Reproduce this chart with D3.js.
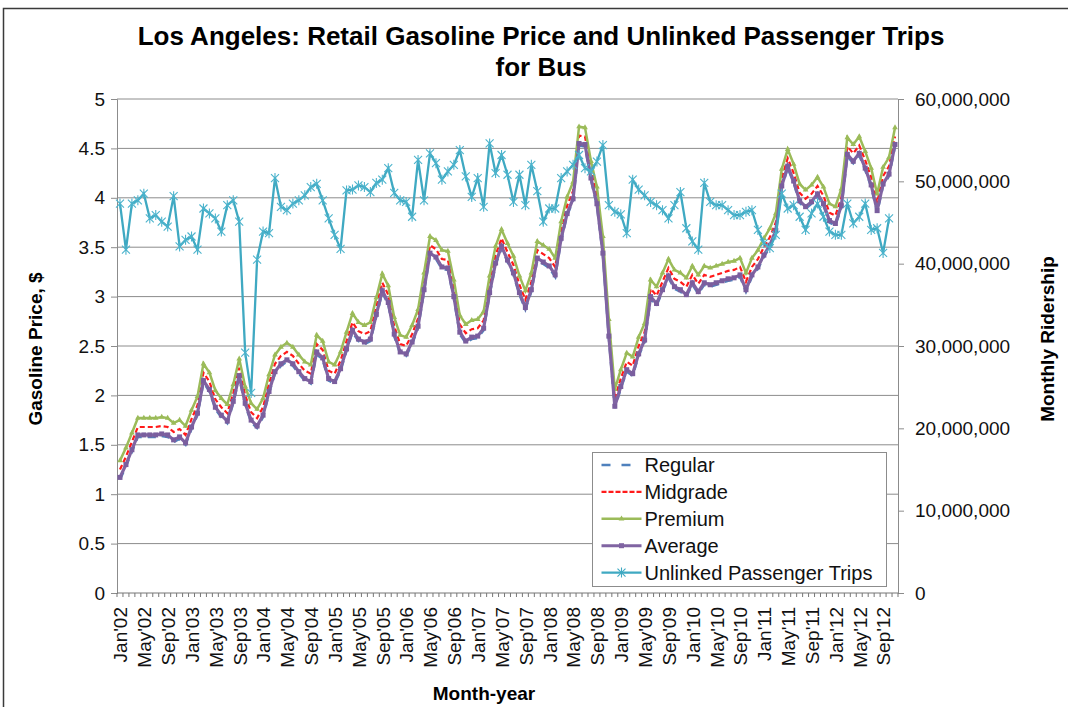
<!DOCTYPE html>
<html>
<head>
<meta charset="utf-8">
<script src="https://cdn.jsdelivr.net/npm/d3@7"></script>
<style>
  body { margin: 0; background: #fff; }
  svg { font-family: "Liberation Sans", Arial, sans-serif; }
</style>
</head>
<body>
<div id="chart"></div>
<script>
// Monthly retail gasoline prices, Los Angeles, Jan 2002 - Nov 2012 ($/gal)
const regular = [
  1.15, 1.28, 1.43, 1.58, 1.58, 1.58, 1.58, 1.59, 1.58, 1.53, 1.56, 1.50,
  1.66, 1.80, 2.13, 2.04, 1.86, 1.78, 1.72, 1.92, 2.18, 1.90, 1.73, 1.67,
  1.78, 2.02, 2.22, 2.30, 2.34, 2.30, 2.22, 2.15, 2.12, 2.42, 2.36, 2.15,
  2.12, 2.25, 2.45, 2.64, 2.55, 2.52, 2.55, 2.80, 3.04, 2.92, 2.60, 2.42,
  2.40, 2.52, 2.68, 3.05, 3.42, 3.38, 3.28, 3.27, 2.98, 2.62, 2.53, 2.57,
  2.58, 2.66, 3.02, 3.32, 3.49, 3.35, 3.22, 3.02, 2.87, 3.05, 3.37, 3.33,
  3.29, 3.20, 3.57, 3.82, 3.97, 4.53, 4.52, 4.18, 3.92, 3.42, 2.58, 1.87,
  2.07, 2.24, 2.20, 2.40, 2.54, 2.98, 2.91, 3.05, 3.19, 3.08, 3.05, 3.00,
  3.12, 3.03, 3.12, 3.10, 3.12, 3.14, 3.16, 3.17, 3.20, 3.05, 3.20, 3.28,
  3.40, 3.50, 3.65, 4.10, 4.30, 4.15, 3.95, 3.89, 3.94, 4.02, 3.92, 3.75,
  3.72, 3.90, 4.42, 4.35, 4.43, 4.28, 4.11, 3.85, 4.12, 4.22, 4.52
];
const midgrade = [
  1.25, 1.38, 1.53, 1.68, 1.68, 1.68, 1.68, 1.69, 1.68, 1.63, 1.66, 1.60,
  1.76, 1.90, 2.23, 2.14, 1.96, 1.88, 1.82, 2.02, 2.28, 2.00, 1.83, 1.77,
  1.88, 2.12, 2.32, 2.40, 2.44, 2.40, 2.32, 2.25, 2.22, 2.52, 2.46, 2.25,
  2.22, 2.35, 2.55, 2.74, 2.65, 2.62, 2.65, 2.90, 3.14, 3.02, 2.70, 2.52,
  2.50, 2.62, 2.78, 3.15, 3.52, 3.48, 3.38, 3.37, 3.08, 2.72, 2.63, 2.67,
  2.68, 2.76, 3.12, 3.42, 3.59, 3.45, 3.32, 3.12, 2.97, 3.15, 3.47, 3.43,
  3.39, 3.30, 3.67, 3.92, 4.07, 4.63, 4.62, 4.28, 4.02, 3.52, 2.68, 1.97,
  2.17, 2.34, 2.30, 2.50, 2.64, 3.08, 3.01, 3.15, 3.29, 3.18, 3.15, 3.10,
  3.22, 3.13, 3.22, 3.20, 3.22, 3.24, 3.26, 3.27, 3.30, 3.15, 3.30, 3.38,
  3.50, 3.60, 3.75, 4.20, 4.40, 4.25, 4.05, 3.99, 4.04, 4.12, 4.02, 3.85,
  3.82, 4.00, 4.52, 4.45, 4.53, 4.38, 4.21, 3.95, 4.22, 4.32, 4.62
];
const premium = [
  1.34, 1.47, 1.62, 1.77, 1.77, 1.77, 1.77, 1.78, 1.77, 1.72, 1.75, 1.69,
  1.85, 1.99, 2.32, 2.23, 2.05, 1.97, 1.91, 2.11, 2.37, 2.09, 1.92, 1.86,
  1.97, 2.21, 2.41, 2.49, 2.53, 2.49, 2.41, 2.34, 2.31, 2.61, 2.55, 2.34,
  2.31, 2.44, 2.64, 2.83, 2.74, 2.71, 2.74, 2.99, 3.23, 3.11, 2.79, 2.61,
  2.59, 2.71, 2.87, 3.24, 3.61, 3.57, 3.47, 3.46, 3.17, 2.81, 2.72, 2.76,
  2.77, 2.85, 3.21, 3.51, 3.68, 3.54, 3.41, 3.21, 3.06, 3.24, 3.56, 3.52,
  3.48, 3.39, 3.76, 4.01, 4.16, 4.72, 4.71, 4.37, 4.11, 3.61, 2.77, 2.06,
  2.26, 2.43, 2.39, 2.59, 2.73, 3.17, 3.10, 3.24, 3.38, 3.27, 3.24, 3.19,
  3.31, 3.22, 3.31, 3.29, 3.31, 3.33, 3.35, 3.36, 3.39, 3.24, 3.39, 3.47,
  3.59, 3.69, 3.84, 4.29, 4.49, 4.34, 4.14, 4.08, 4.13, 4.21, 4.11, 3.94,
  3.91, 4.09, 4.61, 4.54, 4.62, 4.47, 4.30, 4.04, 4.31, 4.41, 4.71
];
const average = [
  1.17, 1.30, 1.45, 1.60, 1.60, 1.60, 1.60, 1.61, 1.60, 1.55, 1.58, 1.52,
  1.68, 1.82, 2.15, 2.06, 1.88, 1.80, 1.74, 1.94, 2.20, 1.92, 1.75, 1.69,
  1.80, 2.04, 2.24, 2.32, 2.36, 2.32, 2.24, 2.17, 2.14, 2.44, 2.38, 2.17,
  2.14, 2.27, 2.47, 2.66, 2.57, 2.54, 2.57, 2.82, 3.06, 2.94, 2.62, 2.44,
  2.42, 2.54, 2.70, 3.07, 3.44, 3.40, 3.30, 3.29, 3.00, 2.64, 2.55, 2.59,
  2.60, 2.68, 3.04, 3.34, 3.51, 3.37, 3.24, 3.04, 2.89, 3.07, 3.39, 3.35,
  3.31, 3.22, 3.59, 3.84, 3.99, 4.55, 4.54, 4.20, 3.94, 3.44, 2.60, 1.89,
  2.09, 2.26, 2.22, 2.42, 2.56, 3.00, 2.93, 3.07, 3.21, 3.10, 3.07, 3.02,
  3.14, 3.05, 3.14, 3.12, 3.14, 3.16, 3.18, 3.19, 3.22, 3.07, 3.22, 3.30,
  3.42, 3.52, 3.67, 4.12, 4.32, 4.17, 3.97, 3.91, 3.96, 4.04, 3.94, 3.77,
  3.74, 3.92, 4.44, 4.37, 4.45, 4.30, 4.13, 3.87, 4.14, 4.24, 4.54
];
// Unlinked passenger trips for bus, millions per month (Jan 2002 - Oct 2012)
const trips = [
  47.3, 41.7, 47.3, 47.7, 48.5, 45.5, 45.9, 45.1, 44.5, 48.2, 42.1, 42.9,
  43.3, 41.7, 46.7, 46.1, 45.5, 43.9, 47.1, 47.7, 45.1, 29.2, 24.3, 40.5,
  43.9, 43.7, 50.4, 46.9, 46.5, 47.3, 47.7, 48.3, 49.3, 49.7, 47.7, 45.5,
  43.5, 41.8, 48.9, 49.0, 49.5, 49.3, 48.7, 49.8, 50.2, 51.6, 48.6, 47.7,
  47.5, 45.7, 52.6, 47.7, 53.4, 52.2, 50.2, 51.2, 52.0, 53.8, 50.6, 48.1,
  50.4, 46.9, 54.6, 51.0, 53.2, 50.8, 47.5, 50.8, 47.1, 52.0, 48.8, 45.1,
  46.7, 46.7, 50.4, 51.2, 52.0, 53.2, 51.6, 51.2, 52.4, 54.4, 47.1, 46.3,
  46.0, 43.7, 50.2, 49.0, 48.3, 47.5, 47.1, 46.5, 45.5, 47.1, 48.7, 44.3,
  42.7, 41.7, 49.8, 47.5, 47.1, 47.1, 46.5, 45.9, 45.9, 46.3, 46.5, 44.1,
  42.5, 41.9, 43.5, 48.5, 46.7, 47.1, 45.7, 44.1, 46.1, 47.3, 45.7, 43.9,
  43.5, 43.5, 47.3, 44.9, 45.7, 47.3, 44.1, 44.3, 41.3, 45.5
];

const priceTicks = [0, 0.5, 1, 1.5, 2, 2.5, 3, 3.5, 4, 4.5, 5];
const tripTicks = [0, 10, 20, 30, 40, 50, 60];
const monthNames = ['Jan', 'Feb', 'Mar', 'Apr', 'May', 'Jun', 'Jul', 'Aug', 'Sep', 'Oct', 'Nov', 'Dec'];
const firstYear = 2002;
const categories = regular.map((d, i) =>
  monthNames[i % 12] + "'" + String((firstYear + Math.floor(i / 12)) % 100).padStart(2, '0'));
const labelEvery = 4;

const W = 1068, H = 707;
const plot = {left: 117, right: 898, top: 99, bottom: 593};

const svg = d3.select('#chart').append('svg')
  .attr('width', W)
  .attr('height', H);

// Outer chart border
svg.append('rect')
  .attr('x', 3.5).attr('y', 8.5)
  .attr('width', 1200).attr('height', 900)
  .attr('fill', 'none')
  .attr('stroke', '#3a3a3a')
  .attr('stroke-width', 1.5);

// Scales
const x = d3.scalePoint()
  .domain(d3.range(categories.length))
  .range([plot.left, plot.right])
  .padding(0.5);
const yL = d3.scaleLinear().domain([0, 5]).range([plot.bottom, plot.top]);
const yR = d3.scaleLinear().domain([0, 60]).range([plot.bottom, plot.top]);

// Gridlines
svg.append('g')
  .selectAll('line')
  .data(priceTicks.filter(d => d > 0))
  .enter().append('line')
  .attr('x1', plot.left).attr('x2', plot.right)
  .attr('y1', d => yL(d)).attr('y2', d => yL(d))
  .attr('stroke', '#8c8c8c')
  .attr('stroke-width', 1);

// Left axis
const leftAxis = svg.append('g')
  .attr('transform', `translate(${plot.left},0)`)
  .call(d3.axisLeft(yL).tickValues(priceTicks).tickSize(6).tickPadding(6).tickFormat(d => String(d)));
leftAxis.select('.domain').attr('stroke', '#8c8c8c');
leftAxis.selectAll('.tick line').attr('stroke', '#8c8c8c');
leftAxis.selectAll('text').style('font-size', '19px').attr('fill', '#111');

// Right axis
const rightAxis = svg.append('g')
  .attr('transform', `translate(${plot.right},0)`)
  .call(d3.axisRight(yR).tickValues(tripTicks).tickSize(6).tickPadding(11).tickFormat(d => d3.format(',')(d * 1e6)));
rightAxis.select('.domain').attr('stroke', '#8c8c8c');
rightAxis.selectAll('.tick line').attr('stroke', '#8c8c8c');
rightAxis.selectAll('text').style('font-size', '19px').attr('fill', '#111');

// Bottom axis: line, small ticks between categories, rotated labels
const step = x.step();
svg.append('line')
  .attr('x1', plot.left).attr('x2', plot.right)
  .attr('y1', plot.bottom).attr('y2', plot.bottom)
  .attr('stroke', '#777');
svg.append('g')
  .selectAll('line')
  .data(d3.range(categories.length + 1))
  .enter().append('line')
  .attr('x1', i => x(Math.min(i, categories.length - 1)) + (i === categories.length ? step / 2 : -step / 2))
  .attr('x2', i => x(Math.min(i, categories.length - 1)) + (i === categories.length ? step / 2 : -step / 2))
  .attr('y1', plot.bottom).attr('y2', plot.bottom + 4)
  .attr('stroke', '#777');

const bottomAxis = svg.append('g')
  .attr('transform', `translate(0,${plot.bottom})`)
  .call(d3.axisBottom(x)
    .tickValues(d3.range(0, categories.length, labelEvery))
    .tickSize(0)
    .tickFormat(i => categories[i]));
bottomAxis.select('.domain').remove();
bottomAxis.selectAll('text')
  .attr('transform', 'rotate(-90)')
  .attr('x', -14)
  .attr('y', 0)
  .attr('dy', '0.36em')
  .style('text-anchor', 'end')
  .style('font-size', '19px')
  .attr('fill', '#111');

// Series lines
const priceLine = data => d3.line()
  .x((d, i) => x(i))
  .y(d => yL(d))(data);

svg.append('path')
  .attr('d', priceLine(regular))
  .attr('fill', 'none')
  .attr('stroke', '#4f81bd')
  .attr('stroke-width', 2.5)
  .attr('stroke-dasharray', '8,6');

svg.append('path')
  .attr('d', priceLine(midgrade))
  .attr('fill', 'none')
  .attr('stroke', '#ff1a1a')
  .attr('stroke-width', 2.2)
  .attr('stroke-dasharray', '5,3');

svg.append('path')
  .attr('d', priceLine(premium))
  .attr('fill', 'none')
  .attr('stroke', '#9bbb59')
  .attr('stroke-width', 2.5);
svg.append('g')
  .selectAll('path')
  .data(premium)
  .enter().append('path')
  .attr('transform', (d, i) => `translate(${x(i)},${yL(d)})`)
  .attr('d', d3.symbol(d3.symbolTriangle, 14))
  .attr('fill', '#9bbb59');

svg.append('path')
  .attr('d', priceLine(average))
  .attr('fill', 'none')
  .attr('stroke', '#8064a2')
  .attr('stroke-width', 3.2);
svg.append('g')
  .selectAll('rect')
  .data(average)
  .enter().append('rect')
  .attr('x', (d, i) => x(i) - 2.5)
  .attr('y', d => yL(d) - 2.5)
  .attr('width', 5).attr('height', 5)
  .attr('fill', '#7a5e9e');

// Ridership (secondary axis)
const tripPoints = trips.map((d, i) => [x(i), yR(d)]);
svg.append('path')
  .attr('d', d3.line()(tripPoints))
  .attr('fill', 'none')
  .attr('stroke', '#3fa9c2')
  .attr('stroke-width', 2.3);
const starPath = 'M-4,-4L4,4M-4,4L4,-4M0,-5L0,5';
svg.append('g')
  .selectAll('path')
  .data(tripPoints)
  .enter().append('path')
  .attr('transform', d => `translate(${d[0]},${d[1]})`)
  .attr('d', starPath)
  .attr('stroke', '#4bb3cc')
  .attr('stroke-width', 1.1)
  .attr('fill', 'none');

// Title
svg.append('text')
  .attr('x', 541).attr('y', 45)
  .attr('text-anchor', 'middle')
  .style('font-size', '26px')
  .style('font-weight', 'bold')
  .text('Los Angeles: Retail Gasoline Price and Unlinked Passenger Trips');
svg.append('text')
  .attr('x', 541).attr('y', 76)
  .attr('text-anchor', 'middle')
  .style('font-size', '26px')
  .style('font-weight', 'bold')
  .text('for Bus');

// Axis titles
svg.append('text')
  .attr('transform', 'translate(35,349) rotate(-90)')
  .attr('text-anchor', 'middle')
  .attr('dy', '0.36em')
  .style('font-size', '19px')
  .style('font-weight', 'bold')
  .text('Gasoline Price, $');
svg.append('text')
  .attr('transform', 'translate(1047,339) rotate(-90)')
  .attr('text-anchor', 'middle')
  .attr('dy', '0.36em')
  .style('font-size', '19px')
  .style('font-weight', 'bold')
  .text('Monthly Ridership');
svg.append('text')
  .attr('x', 484).attr('y', 700)
  .attr('text-anchor', 'middle')
  .style('font-size', '19px')
  .style('font-weight', 'bold')
  .text('Month-year');

// Legend
const legendItems = [
  {name: 'Regular', color: '#4f81bd', dash: '9,11', width: 2.5, marker: null},
  {name: 'Midgrade', color: '#ff1a1a', dash: '5,2', width: 2.2, marker: null},
  {name: 'Premium', color: '#9bbb59', dash: null, width: 2.5, marker: 'tri'},
  {name: 'Average', color: '#8064a2', dash: null, width: 3, marker: 'sq'},
  {name: 'Unlinked Passenger Trips', color: '#3fa9c2', dash: null, width: 2.3, marker: 'star'}
];
const legend = svg.append('g').attr('transform', 'translate(592.5,452.5)');
legend.append('rect')
  .attr('width', 294).attr('height', 134)
  .attr('fill', '#fff')
  .attr('stroke', '#8c8c8c');
const items = legend.selectAll('g.item')
  .data(legendItems)
  .enter().append('g')
  .attr('class', 'item')
  .attr('transform', (d, i) => `translate(0,${12.5 + i * 26.9})`);
items.append('line')
  .attr('x1', 9).attr('x2', 49)
  .attr('stroke', d => d.color)
  .attr('stroke-width', d => d.width)
  .attr('stroke-dasharray', d => d.dash);
items.filter(d => d.marker === 'tri').append('path')
  .attr('transform', 'translate(29,0)')
  .attr('d', d3.symbol(d3.symbolTriangle, 14))
  .attr('fill', d => d.color);
items.filter(d => d.marker === 'sq').append('rect')
  .attr('x', 26.5).attr('y', -2.5).attr('width', 5).attr('height', 5)
  .attr('fill', d => d.color);
items.filter(d => d.marker === 'star').append('path')
  .attr('transform', 'translate(29,0)')
  .attr('d', starPath)
  .attr('stroke', d => d.color)
  .attr('stroke-width', 1.1);
items.append('text')
  .attr('x', 52)
  .attr('dy', '0.36em')
  .style('font-size', '20px')
  .attr('fill', '#111')
  .text(d => d.name);
</script>
</body>
</html>
